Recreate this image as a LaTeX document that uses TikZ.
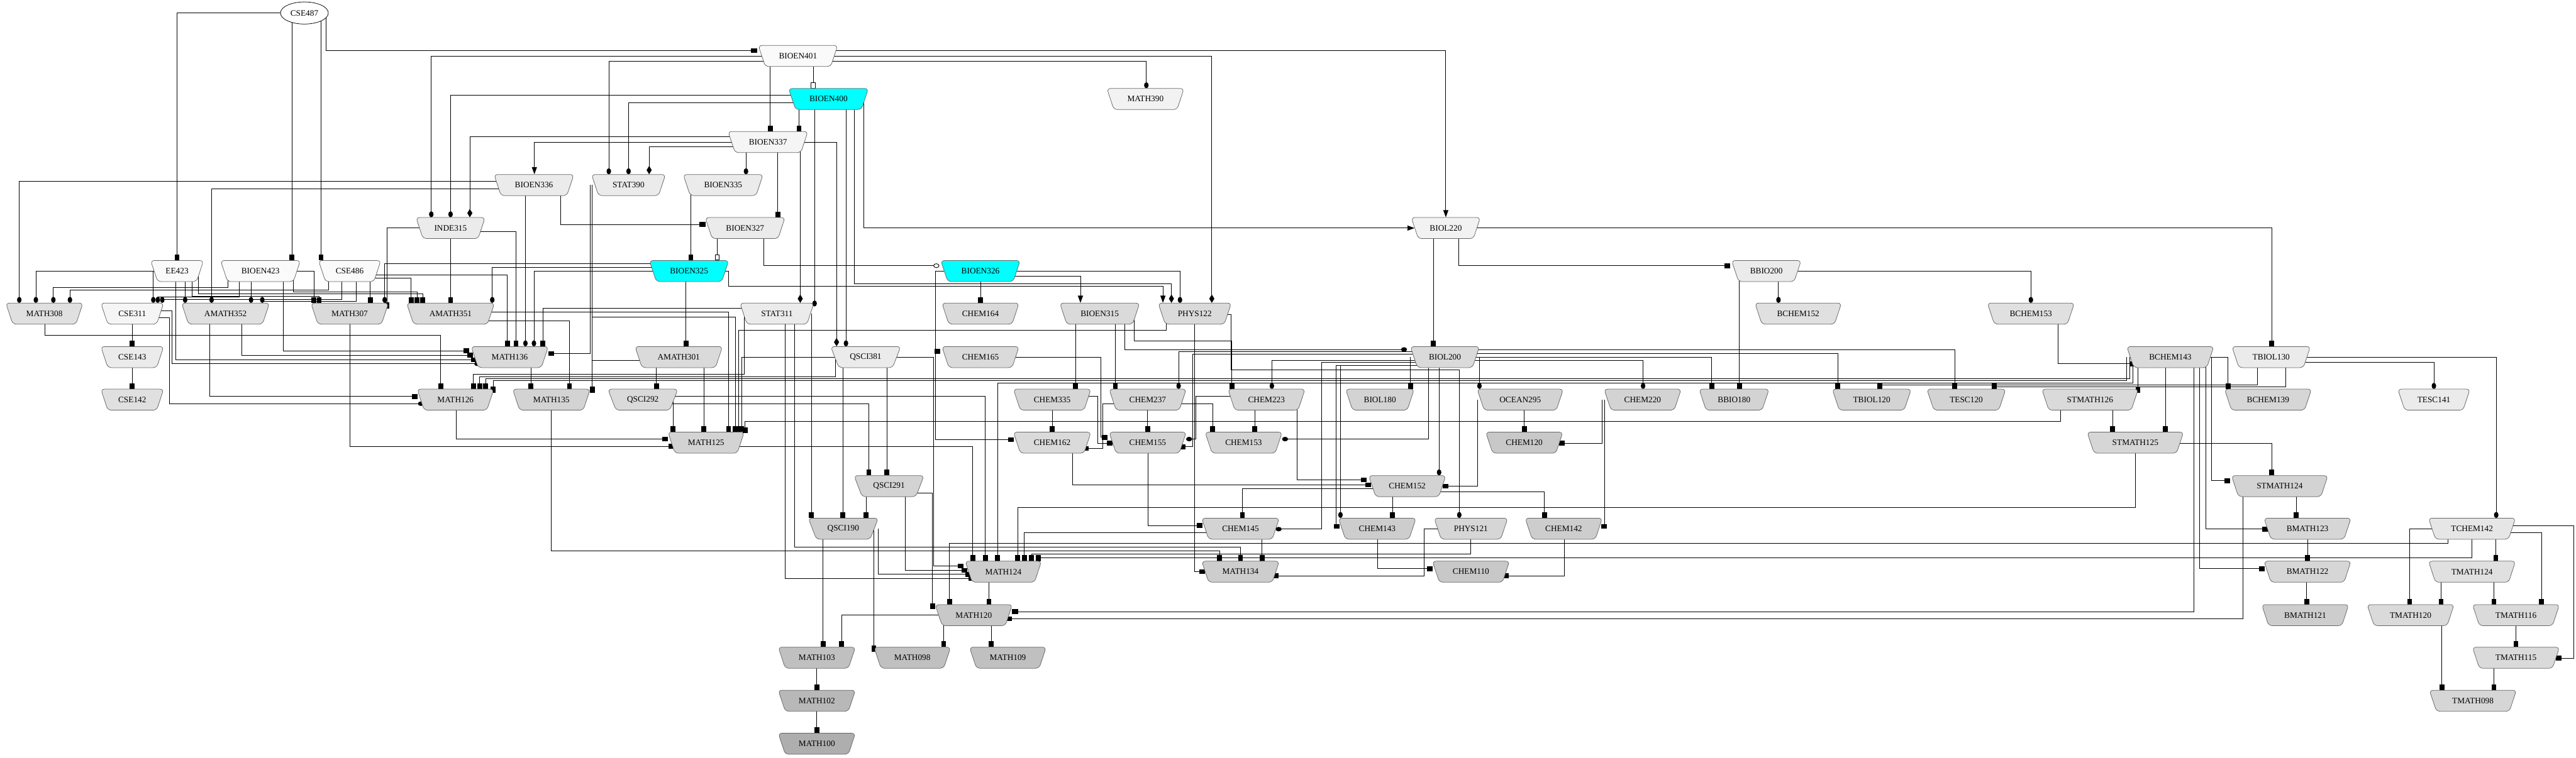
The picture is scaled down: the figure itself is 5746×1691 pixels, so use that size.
\documentclass[tikz,border=0pt]{standalone}
\usepackage{fontspec}
\setmainfont{Liberation Serif}
\usetikzlibrary{shapes.geometric,arrows.meta}
\pgfdeclarelayer{bg}
\pgfsetlayers{bg,main}
\definecolor{cW}{HTML}{FAFAFA}
\definecolor{cF7}{HTML}{F5F5F5}
\definecolor{cF2}{HTML}{F2F2F2}
\definecolor{cEB}{HTML}{EBEBEB}
\definecolor{cE6}{HTML}{E6E6E6}
\definecolor{cE0}{HTML}{E0E0E0}
\definecolor{cDA}{HTML}{DADADA}
\definecolor{cD6}{HTML}{D6D6D6}
\definecolor{cD3}{HTML}{D3D3D3}
\definecolor{cCD}{HTML}{CDCDCD}
\definecolor{cC8}{HTML}{C8C8C8}
\definecolor{cC0}{HTML}{C0C0C0}
\definecolor{cB8}{HTML}{B8B8B8}
\definecolor{cAE}{HTML}{AEAEAE}
\definecolor{cCy}{HTML}{00FFFF}
\tikzset{
 crsnode/.style={trapezium, trapezium left angle=131, trapezium right angle=131,
   trapezium stretches body, minimum height=35.25pt, draw=black!60, line width=0.8pt,
   rounded corners=6pt, inner xsep=1pt, inner ysep=2pt, text=black,
   font=\fontsize{14}{16}\selectfont},
 ed/.style={line width=0.95pt, draw=black},
 bx/.style={ed, -{Square[length=9.5pt,width=8pt]}},
 dt/.style={ed, -{Ellipse[length=10pt,width=7.5pt]}},
 dm/.style={ed, -{Diamond[length=14pt,width=8.5pt]}},
 nm/.style={ed, -{Triangle[length=12pt,width=8.5pt]}},
 ob/.style={ed, -{Square[length=9.5pt,width=8pt,fill=white]}},
 od/.style={ed, -{Ellipse[length=10pt,width=7.5pt,fill=white]}},
}
\newcommand\crs[5]{\node[crsnode, minimum width=#4*0.75pt, fill=#5] (#1) at (#2,#3) {#1};}
\newcommand\eVV[4]{\draw[#1] (#3,0 |- #2.center) -- (#3,0 |- #4.north);}
\newcommand\eVT[6]{\draw[#1] (#3,0 |- #2.center) -- (#3,#4) -| (#6,0 |- #5.north);}
\newcommand\eHT[5]{\draw[#1] ([shift={(0,#3)}]#2.center) -| (#5,0 |- #4.north);}
\newcommand\eHVT[7]{\draw[#1] ([shift={(0,#3)}]#2.center) -| (#4,#5) -| (#7,0 |- #6.north);}
\newcommand\eVL[5]{\path ([shift={({0.87*(#5)},#5)}]#4.west) coordinate (tp); \draw[#1] (#3,0 |- #2.center) -- (#3,0 |- tp) -- (tp);}
\newcommand\eVR[5]{\path ([shift={({-0.87*(#5)},#5)}]#4.east) coordinate (tp); \draw[#1] (#3,0 |- #2.center) -- (#3,0 |- tp) -- (tp);}
\newcommand\eHVL[6]{\path ([shift={({0.87*(#6)},#6)}]#5.west) coordinate (tp); \draw[#1] ([shift={(0,#3)}]#2.center) -| (#4,0 |- tp) -- (tp);}
\newcommand\eHVR[6]{\path ([shift={({-0.87*(#6)},#6)}]#5.east) coordinate (tp); \draw[#1] ([shift={(0,#3)}]#2.center) -| (#4,0 |- tp) -- (tp);}
\newcommand\eVP[5]{\path ([shift={(0,#5)}]#4.center) coordinate (tp); \draw[#1] (#3,0 |- #2.center) -- (#3,0 |- tp);}
\newcommand\eHP[6]{\path ([shift={(0,#6)}]#4.center) coordinate (tp); \draw[#1] ([shift={(0,#3)}]#2.center) -| (#5,0 |- tp);}
\newcommand\eVTP[7]{\path ([shift={(0,#7)}]#5.center) coordinate (tp); \draw[#1] (#3,0 |- #2.center) -- (#3,#4) -| (#6,0 |- tp);}
\begin{document}
\begin{tikzpicture}[x=0.75pt,y=-0.75pt]
\useasboundingbox (0,0) rectangle (5746,1691);
\begin{pgfonlayer}{bg}
\fill[white] (0,0) rectangle (5746,1691);
\end{pgfonlayer}
% ---------------- nodes
\node[ellipse, draw=black, fill=white, line width=0.8pt, minimum width=80pt, minimum height=37pt, inner sep=0pt, font=\fontsize{14}{16}\selectfont] (CSE487) at (679,29) {CSE487};
\crs{BIOEN401}{1780}{125}{177}{cW}
\crs{BIOEN400}{1848}{221}{178}{cCy}
\crs{MATH390}{2555}{221}{172}{cF2}
\crs{BIOEN337}{1713}{317}{178}{cF7}
\crs{BIOEN336}{1191}{413}{178}{cEB}
\crs{STAT390}{1402}{413}{165}{cEB}
\crs{BIOEN335}{1613}{413}{178}{cEB}
\crs{INDE315}{1005}{509}{154}{cEB}
\crs{BIOEN327}{1662}{509}{178}{cEB}
\crs{BIOL220}{3225}{509}{154}{cF2}
\crs{EE423}{395}{605}{118}{cW}
\crs{BIOEN423}{581}{605}{178}{cW}
\crs{CSE486}{780}{605}{139}{cW}
\crs{BIOEN325}{1537}{605}{177}{cCy}
\crs{BIOEN326}{2187}{605}{177}{cCy}
\crs{BBIO200}{3940}{605}{155}{cEB}
\crs{MATH308}{99}{700}{172}{cE0}
\crs{CSE311}{295}{700}{140}{cF7}
\crs{AMATH352}{503}{700}{196}{cE0}
\crs{MATH307}{780}{700}{173}{cDA}
\crs{AMATH351}{1005}{700}{196}{cDA}
\crs{STAT311}{1733}{700}{165}{cEB}
\crs{CHEM164}{2187}{700}{172}{cDA}
\crs{BIOEN315}{2453}{700}{178}{cDA}
\crs{PHYS122}{2665}{700}{163}{cDA}
\crs{BCHEM152}{4011}{700}{193}{cE0}
\crs{BCHEM153}{4530}{700}{194}{cE0}
\crs{CSE143}{295}{797}{140}{cEB}
\crs{MATH136}{1137}{797}{172}{cDA}
\crs{AMATH301}{1514}{797}{195}{cDA}
\crs{QSCI381}{1931}{797}{156}{cEB}
\crs{CHEM165}{2187}{797}{172}{cDA}
\crs{BIOL200}{3223}{797}{154}{cDA}
\crs{BCHEM143}{4841}{797}{194}{cDA}
\crs{TBIOL130}{5066}{797}{175}{cEB}
\crs{CSE142}{295}{892}{140}{cE0}
\crs{MATH126}{1016}{892}{171}{cD6}
\crs{MATH135}{1230}{892}{173}{cD3}
\crs{QSCI292}{1434}{892}{156}{cDA}
\crs{CHEM335}{2347}{892}{173}{cD6}
\crs{CHEM237}{2560}{892}{172}{cD6}
\crs{CHEM223}{2825}{892}{172}{cD6}
\crs{BIOL180}{3078}{892}{153}{cD3}
\crs{OCEAN295}{3391}{892}{192}{cD3}
\crs{CHEM220}{3664}{892}{172}{cD3}
\crs{BBIO180}{3868}{892}{156}{cD3}
\crs{TBIOL120}{4175}{892}{176}{cD3}
\crs{TESC120}{4386}{892}{176}{cD3}
\crs{STMATH126}{4662}{892}{215}{cDA}
\crs{BCHEM139}{5059}{892}{194}{cD6}
\crs{TESC141}{5429}{892}{161}{cEB}
\crs{MATH125}{1575}{988}{170}{cD3}
\crs{CHEM162}{2347}{988}{173}{cDA}
\crs{CHEM155}{2560}{988}{172}{cD3}
\crs{CHEM153}{2774}{988}{172}{cD3}
\crs{CHEM120}{3400}{988}{172}{cC8}
\crs{STMATH125}{4763}{988}{215}{cD6}
\crs{QSCI291}{1983}{1085}{156}{cD3}
\crs{CHEM152}{3139}{1085}{172}{cD3}
\crs{STMATH124}{5085}{1085}{215}{cD3}
\crs{QSCI190}{1881}{1180}{156}{cCD}
\crs{CHEM145}{2767}{1180}{173}{cD3}
\crs{CHEM143}{3072}{1180}{173}{cCD}
\crs{PHYS121}{3281}{1180}{164}{cD6}
\crs{CHEM142}{3488}{1180}{172}{cCD}
\crs{BMATH123}{5147}{1180}{194}{cD6}
\crs{TCHEM142}{5514}{1180}{194}{cE6}
\crs{MATH124}{2238}{1276}{170}{cCD}
\crs{MATH134}{2767}{1276}{173}{cCD}
\crs{CHEM110}{3281}{1276}{172}{cC8}
\crs{BMATH122}{5147}{1276}{194}{cD6}
\crs{TMATH124}{5514}{1276}{194}{cE0}
\crs{MATH120}{2172}{1373}{172}{cC8}
\crs{BMATH121}{5142}{1373}{194}{cCD}
\crs{TMATH120}{5377}{1373}{194}{cDA}
\crs{TMATH116}{5612}{1373}{194}{cDA}
\crs{MATH103}{1822}{1468}{172}{cC0}
\crs{MATH098}{2035}{1468}{171}{cC0}
\crs{MATH109}{2248}{1468}{171}{cC0}
\crs{TMATH115}{5612}{1468}{194}{cDA}
\crs{MATH102}{1822}{1564}{172}{cB8}
\crs{TMATH098}{5516}{1564}{194}{cD6}
\crs{MATH100}{1822}{1660}{172}{cAE}
% ---------------- edges
\begin{pgfonlayer}{bg}
\eHT{bx}{CSE487}{0}{EE423}{395}
\eVV{bx}{CSE487}{651}{BIOEN423}
\eVV{bx}{CSE487}{716}{CSE486}
\eVL{bx}{CSE487}{727}{BIOEN401}{-12}
\eHT{nm}{BIOEN401}{-12}{BIOL220}{3225}
\eHT{dt}{BIOEN401}{0}{INDE315}{962}
\eHT{dt}{BIOEN401}{12}{STAT390}{1358}
\eHT{dm}{BIOEN401}{0}{PHYS122}{2703}
\eHT{dt}{BIOEN401}{12}{MATH390}{2557}
\eVV{bx}{BIOEN401}{1718}{BIOEN337}
\eVV{ob}{BIOEN401}{1814}{BIOEN400}
\eHT{dt}{BIOEN400}{-8}{INDE315}{1005}
\eHT{dt}{BIOEN400}{8}{STAT390}{1402}
\eVV{bx}{BIOEN400}{1782}{BIOEN337}
\eVP{dt}{BIOEN400}{1817}{STAT311}{-16}
\eVV{dt}{BIOEN400}{1887}{QSCI381}
\eVT{dm}{BIOEN400}{1906}{634}{PHYS122}{2613}
\eVL{nm}{BIOEN400}{1926}{BIOL220}{0}
\eHT{dm}{BIOEN337}{0}{QSCI381}{1866}
\eHT{dm}{BIOEN337}{-12}{INDE315}{1048}
\eHT{nm}{BIOEN337}{0}{BIOEN336}{1192}
\eHT{dm}{BIOEN337}{11}{STAT390}{1448}
\eVV{dt}{BIOEN337}{1664}{BIOEN335}
\eVV{bx}{BIOEN337}{1735}{BIOEN327}
\eVV{dm}{BIOEN337}{1785}{STAT311}
\eHT{dt}{BIOEN336}{-8}{MATH308}{43}
\eHT{dt}{BIOEN336}{8}{AMATH352}{472}
\eVV{dt}{BIOEN336}{1172}{MATH136}
\eVL{bx}{BIOEN336}{1250}{BIOEN327}{-8}
\eHP{bx}{INDE315}{0}{MATH307}{863}{-12}
\eHT{bx}{INDE315}{8}{MATH136}{1151}
\eVV{bx}{INDE315}{1005}{AMATH351}
\eVR{bx}{STAT390}{1316}{MATH136}{-8}
\eVP{bx}{STAT390}{1321}{MATH135}{-16}
\eVT{bx}{STAT390}{1321}{707}{MATH125}{1640}
\eVV{bx}{BIOEN335}{1541}{BIOEN325}
\eVV{ob}{BIOEN327}{1600}{BIOEN325}
\eVL{od}{BIOEN327}{1703}{BIOEN326}{-12}
\eHT{bx}{BIOL220}{0}{TBIOL130}{5067}
\eVV{bx}{BIOL220}{3197}{BIOL200}
\eVL{bx}{BIOL220}{3254}{BBIO200}{-12}
\eHT{dt}{EE423}{0}{MATH308}{80}
\eVV{dt}{EE423}{342}{CSE311}
\eVT{dt}{BIOEN423}{508}{642}{MATH308}{119}
\eVT{dt}{CSE486}{733}{648}{MATH308}{156}
\eVT{dt}{BIOEN423}{534}{663}{CSE311}{352}
\eVT{dt}{CSE486}{763}{668}{CSE311}{362}
\eVV{dt}{EE423}{413}{AMATH352}
\eVV{dt}{BIOEN423}{560}{AMATH352}
\eVT{dt}{CSE486}{794}{672}{AMATH352}{585}
\eVT{bx}{EE423}{429}{661}{MATH307}{712}
\eHT{bx}{BIOEN423}{0}{MATH307}{700}
\eVV{bx}{CSE486}{826}{MATH307}
\eHT{dt}{BIOEN325}{-17}{MATH307}{858}
\eHT{dt}{BIOEN325}{-8}{AMATH351}{1098}
\eHT{dt}{BIOEN325}{0}{MATH136}{1191}
\eHT{bx}{CSE486}{8}{MATH136}{1132}
\eHT{bx}{CSE486}{16}{AMATH351}{917}
\eVT{bx}{BIOEN423}{655}{651}{AMATH351}{930}
\eVT{bx}{EE423}{443}{656}{AMATH351}{943}
\eVL{bx}{BIOEN423}{632}{MATH136}{-14}
\eVL{bx}{EE423}{392}{MATH136}{6}
\eHVL{dt}{CSE311}{-7}{384}{MATH136}{15}
\eHVL{dt}{CSE311}{9}{378}{MATH126}{9}
\eVL{bx}{AMATH352}{539}{MATH136}{-4}
\eVL{bx}{AMATH352}{468}{MATH126}{-7}
\eVV{bx}{CSE311}{295}{CSE143}
\eVV{bx}{CSE143}{295}{CSE142}
\eVT{bx}{MATH308}{100}{749}{MATH126}{983}
\eVL{bx}{MATH307}{780}{MATH125}{8}
\eVL{bx}{MATH126}{1017}{MATH125}{-8}
\eVV{bx}{MATH136}{1184}{MATH135}
\eHT{bx}{AMATH351}{16}{MATH135}{1270}
\eHT{bx}{AMATH351}{-3}{MATH125}{1625}
\eHP{bx}{AMATH301}{7}{MATH135}{1321}{-16}
\eVV{bx}{AMATH301}{1464}{QSCI292}
\eVV{bx}{AMATH301}{1570}{MATH125}
\eVV{bx}{BIOEN325}{1530}{AMATH301}
\eHVT{nm}{BIOEN325}{0}{1625}{639}{PHYS122}{2594}
\eVV{bx}{BIOEN326}{2187}{CHEM164}
\eHT{nm}{BIOEN326}{12}{BIOEN315}{2410}
\eHT{dt}{BIOEN326}{0}{PHYS122}{2632}
\eHVL{bx}{BIOEN326}{0}{2087}{CHEM165}{-13}
\eHVL{bx}{BIOEN326}{0}{2087}{CHEM162}{-7}
\eHT{bx}{STAT311}{-12}{MATH136}{1211}
\eVT{bx}{STAT311}{1660}{835}{MATH126}{1056}
\eVV{bx}{STAT311}{1810}{QSCI190}
\eVL{bx}{STAT311}{1751}{MATH124}{15}
\eVT{bx}{STAT311}{1773}{1221}{MATH134}{2767}
\eVT{bx}{QSCI381}{1864}{841}{MATH126}{1070}
\eHT{bx}{QSCI381}{0}{MATH125}{1654}
\eVV{bx}{QSCI381}{1880}{QSCI190}
\eVV{bx}{QSCI381}{1978}{QSCI291}
\eHVL{bx}{QSCI381}{0}{2083}{MATH124}{-13}
\eHP{bx}{QSCI291}{15}{MATH120}{2080}{-14}
\eVL{bx}{QSCI291}{2019}{MATH124}{-3}
\eVV{bx}{QSCI291}{1932}{QSCI190}
\eVV{bx}{QSCI292}{1501}{MATH125}
\eHT{bx}{QSCI292}{-7}{MATH124}{2198}
\eHT{bx}{QSCI292}{9}{QSCI291}{1938}
\eVT{bx}{PHYS122}{2601}{737}{MATH125}{1647}
\eVL{bx}{PHYS122}{2665}{MATH134}{0}
\eHVT{dt}{PHYS122}{2}{2746}{826}{PHYS121}{3255}
\eVV{bx}{BIOEN315}{2399}{CHEM335}
\eVV{bx}{BIOEN315}{2488}{CHEM237}
\eHVT{bx}{BIOEN315}{2}{2530}{761}{CHEM223}{2748}
\eVL{dt}{BIOEN315}{2509}{BIOL200}{-17}
\eHT{dt}{BIOL200}{-12}{CHEM237}{2629}
\eHT{dt}{BIOL200}{7}{CHEM223}{2837}
\eHVR{bx}{BIOL200}{-6}{2661}{CHEM155}{9}
\eHVR{dt}{BIOL200}{12}{2948}{CHEM145}{1}
\eHT{dt}{BIOL200}{18}{CHEM143}{2990}
\eHVL{bx}{BIOL200}{18}{2980}{CHEM143}{-5}
\eVR{dt}{BIOL200}{3187}{CHEM153}{-8}
\eVV{dt}{BIOL200}{3210}{CHEM152}
\eVV{bx}{BIOL200}{3146}{BIOL180}
\eVV{dt}{BIOL200}{3300}{OCEAN295}
\eHT{dt}{BIOL200}{8}{CHEM220}{3665}
\eHT{bx}{BIOL200}{0}{BBIO180}{3818}
\eHT{bx}{BIOL200}{-8}{TBIOL120}{4099}
\eHT{bx}{BIOL200}{-16}{TESC120}{4360}
\eVV{bx}{BBIO200}{3880}{BBIO180}
\eVV{dt}{BBIO200}{3967}{BCHEM152}
\eHT{dt}{BBIO200}{0}{BCHEM153}{4530}
\eVV{bx}{OCEAN295}{3400}{CHEM120}
\eVR{bx}{OCEAN295}{3296}{CHEM152}{0}
\eVR{bx}{CHEM220}{3574}{CHEM120}{1}
\eVR{bx}{CHEM220}{3579}{CHEM142}{-5}
\eHT{bx}{CHEM152}{12}{CHEM142}{3445}
\eVV{bx}{CHEM152}{3106}{CHEM143}
\eHT{bx}{CHEM152}{5}{CHEM145}{2771}
\eHVL{bx}{CHEM223}{9}{2893}{CHEM152}{-14}
\eVL{bx}{CHEM162}{2392}{CHEM152}{-3}
\eVV{bx}{CHEM223}{2799}{CHEM153}
\eHT{bx}{CHEM237}{9}{CHEM153}{2705}
\eVV{bx}{CHEM237}{2560}{CHEM155}
\eHVR{bx}{CHEM237}{9}{2460}{CHEM162}{13}
\eVV{bx}{CHEM335}{2347}{CHEM162}
\eHVL{bx}{CHEM335}{-7}{2449}{CHEM155}{1}
\eHVL{bx}{CHEM165}{0}{2455}{CHEM155}{-12}
\eHVR{dt}{CHEM223}{-7}{2668}{CHEM155}{-8}
\eVL{bx}{CHEM155}{2561}{CHEM145}{-7}
\eVV{bx}{CHEM145}{2815}{MATH134}
\eHT{bx}{CHEM145}{9}{MATH124}{2285}
\eVT{bx}{MATH135}{1230}{1229}{MATH134}{2720}
\eHVR{bx}{PHYS121}{0}{3177}{MATH134}{9}
\eVT{bx}{PHYS121}{3281}{1237}{MATH124}{2301}
\eVL{bx}{CHEM143}{3073}{CHEM110}{-7}
\eVR{bx}{CHEM142}{3489}{CHEM110}{9}
\eHT{dt}{TBIOL130}{0}{TCHEM142}{5568}
\eHT{dt}{TBIOL130}{12}{TESC141}{5429}
\eVT{bx}{TBIOL130}{5035}{859}{TBIOL120}{4193}
\eVT{bx}{TBIOL130}{5098}{864}{TESC120}{4448}
\eVL{bx}{BCHEM153}{4590}{BCHEM143}{15}
\eHT{bx}{BCHEM143}{0}{BCHEM139}{4970}
\eVV{bx}{BCHEM143}{4830}{STMATH125}
\eHP{bx}{BCHEM143}{12}{STMATH126}{4769}{-16}
\eVT{bx}{BCHEM143}{4750}{845}{MATH126}{1083}
\eVT{bx}{BCHEM143}{4758}{855}{MATH124}{2225}
\eVTP{bx}{BCHEM143}{4743}{850}{MATH126}{1100}{-16}
\eVV{bx}{STMATH126}{4712}{STMATH125}
\eVTP{bx}{STMATH126}{4596}{941}{MATH125}{1662}{-22}
\eHT{bx}{STMATH125}{1}{STMATH124}{5067}
\eVT{bx}{STMATH125}{4763}{1133}{MATH124}{2270}
\eVL{bx}{BCHEM143}{4933}{STMATH124}{-12}
\eVL{bx}{BCHEM143}{4920}{BMATH123}{1}
\eVL{bx}{BCHEM143}{4906}{BMATH122}{-7}
\eVR{bx}{BCHEM143}{4893}{MATH120}{-8}
\eVR{bx}{STMATH124}{5003}{MATH120}{8}
\eVV{bx}{STMATH124}{5122}{BMATH123}
\eVV{bx}{BMATH123}{5147}{BMATH122}
\eVV{bx}{BMATH122}{5145}{BMATH121}
\eHT{bx}{TCHEM142}{1}{TMATH120}{5375}
\eVV{bx}{TCHEM142}{5567}{TMATH124}
\eHT{bx}{TCHEM142}{9}{TMATH116}{5669}
\eHVR{bx}{TCHEM142}{-7}{5741}{TMATH115}{1}
\eVT{bx}{TCHEM142}{5461}{1212}{MATH120}{2118}
\eVT{bx}{TCHEM142}{5514}{1245}{MATH124}{2316}
\eVV{bx}{TMATH124}{5445}{TMATH120}
\eVV{bx}{TMATH124}{5563}{TMATH116}
\eVV{bx}{TMATH120}{5447}{TMATH098}
\eVV{bx}{TMATH116}{5612}{TMATH115}
\eVV{bx}{TMATH115}{5563}{TMATH098}
\eHT{bx}{MATH125}{9}{MATH124}{2170}
\eVV{bx}{MATH124}{2206}{MATH120}
\eVV{bx}{QSCI190}{1836}{MATH103}
\eVL{bx}{QSCI190}{1959}{MATH124}{6}
\eVP{bx}{QSCI190}{1949}{MATH098}{-14}
\eHT{bx}{MATH120}{0}{MATH103}{1877}
\eVV{bx}{MATH120}{2105}{MATH098}
\eVV{bx}{MATH120}{2211}{MATH109}
\eVV{bx}{MATH103}{1822}{MATH102}
\eVV{bx}{MATH102}{1822}{MATH100}
\end{pgfonlayer}
\end{tikzpicture}
\end{document}
